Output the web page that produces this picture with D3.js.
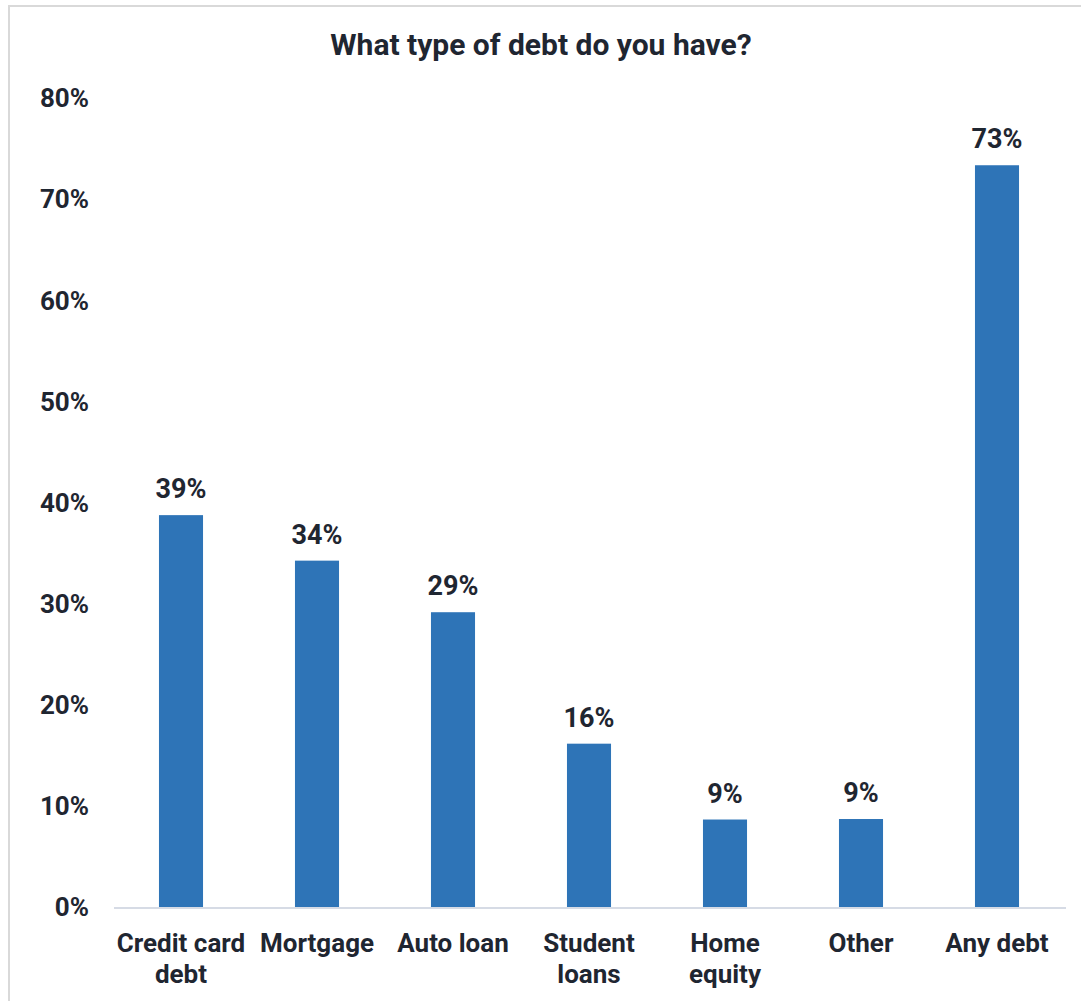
<!DOCTYPE html>
<html>
<head>
<meta charset="utf-8">
<script src="https://cdn.jsdelivr.net/npm/d3@7"></script>
<style>
  html, body { margin: 0; padding: 0; background: #fff; }
  svg { display: block; font-family: Roboto, "Noto Sans", sans-serif; }
</style>
</head>
<body>
<svg id="chart" width="1081" height="1001"></svg>
<script>
// Survey: share of respondents holding each kind of debt
const categories = ["Credit card debt", "Mortgage", "Auto loan", "Student loans", "Home equity", "Other", "Any debt"];
const categoryLines = [["Credit card", "debt"], ["Mortgage"], ["Auto loan"], ["Student", "loans"], ["Home", "equity"], ["Other"], ["Any debt"]];
const shares = [38.8, 34.3, 29.2, 16.2, 8.7, 8.75, 73.4];
const yTicks = [0, 10, 20, 30, 40, 50, 60, 70, 80];
const title = "What type of debt do you have?";

const ink = "#1f2631";
const barColor = "#2e74b7";

const svg = d3.select("#chart");

// outer frame (runs off the right and bottom edges)
svg.append("rect")
  .attr("x", 9).attr("y", 6)
  .attr("width", 1200).attr("height", 1200)
  .attr("fill", "none")
  .attr("stroke", "#d9d9d9")
  .attr("stroke-width", 2);

const x = d3.scaleBand()
  .domain(categories)
  .range([113, 1065])
  .paddingInner(0.676)
  .paddingOuter(0.338);

const y = d3.scaleLinear()
  .domain([0, 80])
  .range([907.5, 98.5]);

// title
svg.append("text")
  .attr("x", 541).attr("y", 55)
  .attr("text-anchor", "middle")
  .attr("fill", ink)
  .attr("font-size", 30)
  .attr("font-weight", 700)
  .text(title);

// y axis labels only
const yAxis = svg.append("g")
  .attr("transform", "translate(89,0)")
  .call(d3.axisLeft(y).tickValues(yTicks).tickSize(0).tickPadding(0).tickFormat(d => d + "%"));
yAxis.select(".domain").remove();
yAxis.selectAll("text")
  .attr("fill", ink)
  .attr("font-size", 26)
  .attr("font-weight", 700)
  .attr("font-family", "Roboto, 'Noto Sans', sans-serif");

// bars
svg.append("g").selectAll("rect")
  .data(shares)
  .join("rect")
  .attr("x", (d, i) => x(categories[i]))
  .attr("y", d => y(d))
  .attr("width", x.bandwidth())
  .attr("height", d => y(0) - y(d))
  .attr("fill", barColor);

// baseline
svg.append("line")
  .attr("x1", 114).attr("x2", 1066)
  .attr("y1", y(0) + 0.5).attr("y2", y(0) + 0.5)
  .attr("stroke", "#d6dbe5")
  .attr("stroke-width", 2);

// value labels
svg.append("g").selectAll("text")
  .data(shares)
  .join("text")
  .attr("x", (d, i) => x(categories[i]) + x.bandwidth() / 2)
  .attr("y", d => y(d) - 17)
  .attr("text-anchor", "middle")
  .attr("fill", ink)
  .attr("font-size", 27)
  .attr("font-weight", 700)
  .text(d => Math.round(d) + "%");

// category labels, wrapped onto two lines where needed
const cat = svg.append("g").selectAll("text")
  .data(categories)
  .join("text")
  .attr("x", d => x(d) + x.bandwidth() / 2)
  .attr("y", 952)
  .attr("text-anchor", "middle")
  .attr("fill", ink)
  .attr("font-size", 26)
  .attr("font-weight", 700);
cat.each(function(d, i) {
  d3.select(this).selectAll("tspan")
    .data(categoryLines[i])
    .join("tspan")
    .attr("x", x(d) + x.bandwidth() / 2)
    .attr("dy", (t, j) => j === 0 ? 0 : 31)
    .text(t => t);
});
</script>
</body>
</html>
